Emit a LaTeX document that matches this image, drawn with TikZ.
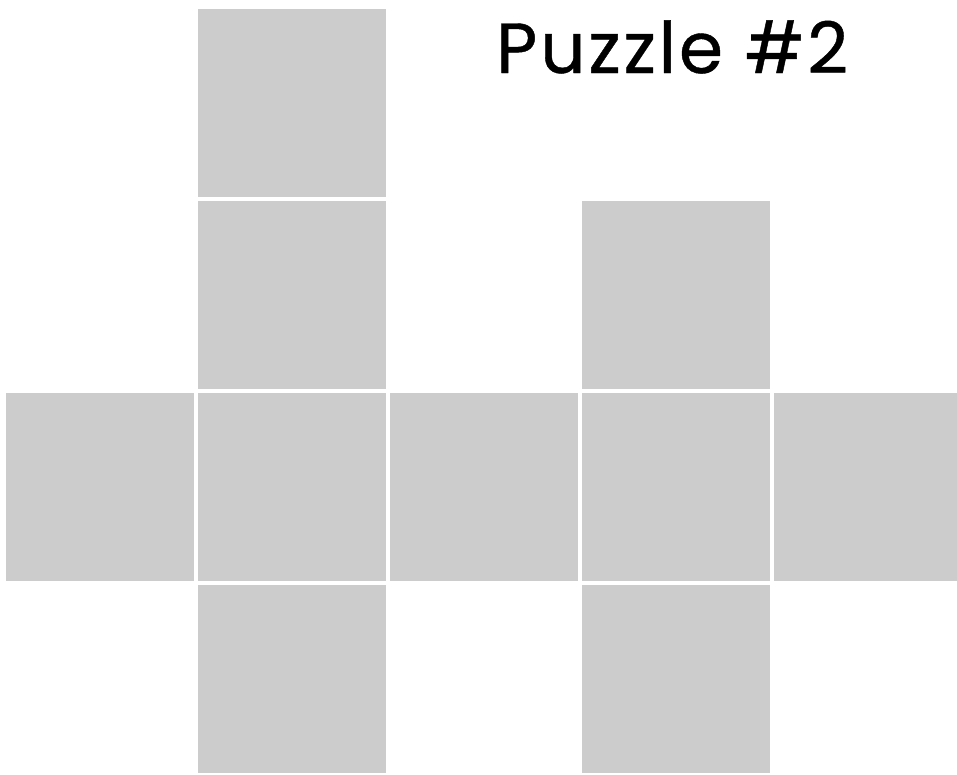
\documentclass[tikz,border=0pt]{standalone}
\usepackage{fontspec}
\setmainfont{Poppins}[FakeBold=0.6,LetterSpace=4]
\begin{document}
\begin{tikzpicture}[x=1pt,y=-1pt,
  sq/.style={fill=sqgrey,draw=none,minimum size=188.5pt,inner sep=0pt,outer sep=0pt,anchor=north west}]
\definecolor{sqgrey}{HTML}{CCCCCC}
\useasboundingbox (0,0) rectangle (957,774);
\clip (0,0) rectangle (957,774);
\node[sq] (a) at (197.5,8.5) {};
\node[sq] (b) at (197.5,200.5) {};
\node[sq] (c) at (581.5,200.5) {};
\node[sq] (d) at (5.5,392.5) {};
\node[sq] (e) at (197.5,392.5) {};
\node[sq] (f) at (389.5,392.5) {};
\node[sq] (g) at (581.5,392.5) {};
\node[sq] (h) at (773.5,392.5) {};
\node[sq] (i) at (197.5,584.5) {};
\node[sq] (j) at (581.5,584.5) {};
\node[anchor=base west,inner sep=0pt] (t) at (496,73) {\fontsize{71}{71}\selectfont Puzzle \#2};
\end{tikzpicture}
\end{document}
